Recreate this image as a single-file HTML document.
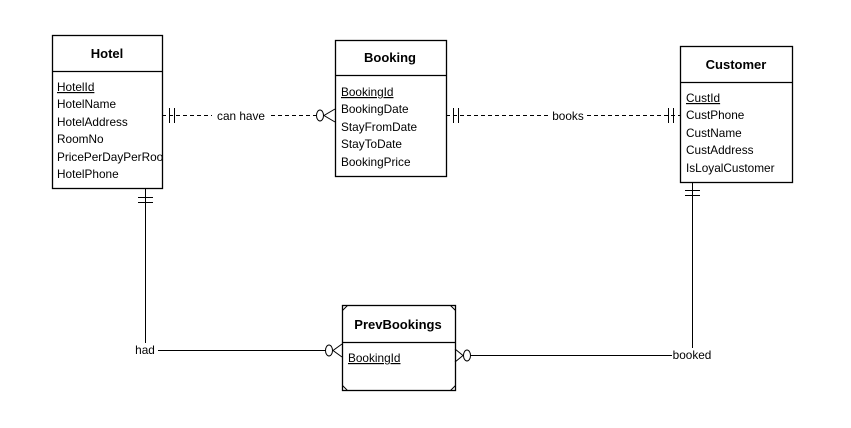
<!DOCTYPE html>
<html><head><meta charset="utf-8"><style>
html,body{margin:0;padding:0;background:#fff;}
svg{display:block;font-family:"Liberation Sans",Arial,sans-serif;}
</style></head><body>
<svg width="851" height="428" viewBox="0 0 851 428" xmlns="http://www.w3.org/2000/svg">
<defs><clipPath id="hc"><rect x="52" y="70" width="110" height="118"/></clipPath></defs>
<g fill="#fff" stroke="#000" stroke-width="1.3">
<rect x="52.5" y="35.5" width="110" height="153"/>
<line x1="52.5" y1="71.5" x2="162.5" y2="71.5"/>
<rect x="335.5" y="40.5" width="111" height="136"/>
<line x1="335.5" y1="75.5" x2="446.5" y2="75.5"/>
<rect x="680.5" y="46.5" width="112" height="136"/>
<line x1="680.5" y1="82.5" x2="792.5" y2="82.5"/>
<rect x="342.5" y="305.5" width="113" height="85"/>
<line x1="342.5" y1="342.5" x2="455.5" y2="342.5"/>
</g>
<g stroke="#000" stroke-width="1" fill="none">
<path d="M342.5 310.5 L347.5 305.5 M450.5 305.5 L455.5 310.5 M342.5 385.5 L347.5 390.5 M450.5 390.5 L455.5 385.5"/>
<line x1="162" y1="115.5" x2="212" y2="115.5" stroke-dasharray="4,3"/>
<line x1="271" y1="115.5" x2="316" y2="115.5" stroke-dasharray="4,3"/>
<line x1="169.5" y1="108" x2="169.5" y2="123"/><line x1="174.5" y1="108" x2="174.5" y2="123"/>
<ellipse cx="320" cy="115.5" rx="3.5" ry="5.5" fill="#fff"/>
<path d="M335 109 L324 115.5 L335 122"/>
<line x1="446" y1="115.5" x2="548" y2="115.5" stroke-dasharray="4,3"/>
<line x1="587" y1="115.5" x2="680" y2="115.5" stroke-dasharray="4,3"/>
<line x1="453.5" y1="108" x2="453.5" y2="123"/><line x1="458.5" y1="108" x2="458.5" y2="123"/>
<line x1="668.5" y1="108" x2="668.5" y2="123"/><line x1="673.5" y1="108" x2="673.5" y2="123"/>
<path d="M145.5 188 L145.5 343 M158 350.5 L326 350.5"/>
<line x1="138" y1="197.5" x2="153" y2="197.5"/><line x1="138" y1="202.5" x2="153" y2="202.5"/>
<ellipse cx="329" cy="350.5" rx="3.5" ry="5.5" fill="#fff"/>
<path d="M342 344 L333 350.5 L342 357"/>
<path d="M692.5 182 L692.5 348 M672 355.5 L470 355.5"/>
<line x1="685" y1="190.5" x2="700" y2="190.5"/><line x1="685" y1="195.5" x2="700" y2="195.5"/>
<ellipse cx="467" cy="355.5" rx="3.5" ry="5.5" fill="#fff"/>
<path d="M455 349 L463 355.5 L455 362"/>
</g>
<g font-size="11.8" fill="#000">
<text x="107" y="58" text-anchor="middle" font-weight="bold" font-size="13">Hotel</text>
<text x="390" y="62" text-anchor="middle" font-weight="bold" font-size="13">Booking</text>
<text x="736" y="69" text-anchor="middle" font-weight="bold" font-size="13">Customer</text>
<text x="398" y="329" text-anchor="middle" font-weight="bold" font-size="13">PrevBookings</text>
<text x="57" y="91" text-decoration="underline">HotelId</text>
<text x="57" y="108">HotelName</text>
<text x="57" y="126">HotelAddress</text>
<text x="57" y="143">RoomNo</text>
<text x="57" y="161" clip-path="url(#hc)">PricePerDayPerRoom</text>
<text x="57" y="178">HotelPhone</text>
<text x="341" y="96" text-decoration="underline">BookingId</text>
<text x="341" y="113">BookingDate</text>
<text x="341" y="131">StayFromDate</text>
<text x="341" y="148">StayToDate</text>
<text x="341" y="166">BookingPrice</text>
<text x="686" y="102" text-decoration="underline">CustId</text>
<text x="686" y="119">CustPhone</text>
<text x="686" y="137">CustName</text>
<text x="686" y="154">CustAddress</text>
<text x="686" y="172">IsLoyalCustomer</text>
<text x="348" y="362" text-decoration="underline">BookingId</text>
<text x="241" y="120" text-anchor="middle">can have</text>
<text x="568" y="120" text-anchor="middle">books</text>
<text x="145" y="354" text-anchor="middle">had</text>
<text x="692" y="359" text-anchor="middle">booked</text>
</g>
</svg>
</body></html>
